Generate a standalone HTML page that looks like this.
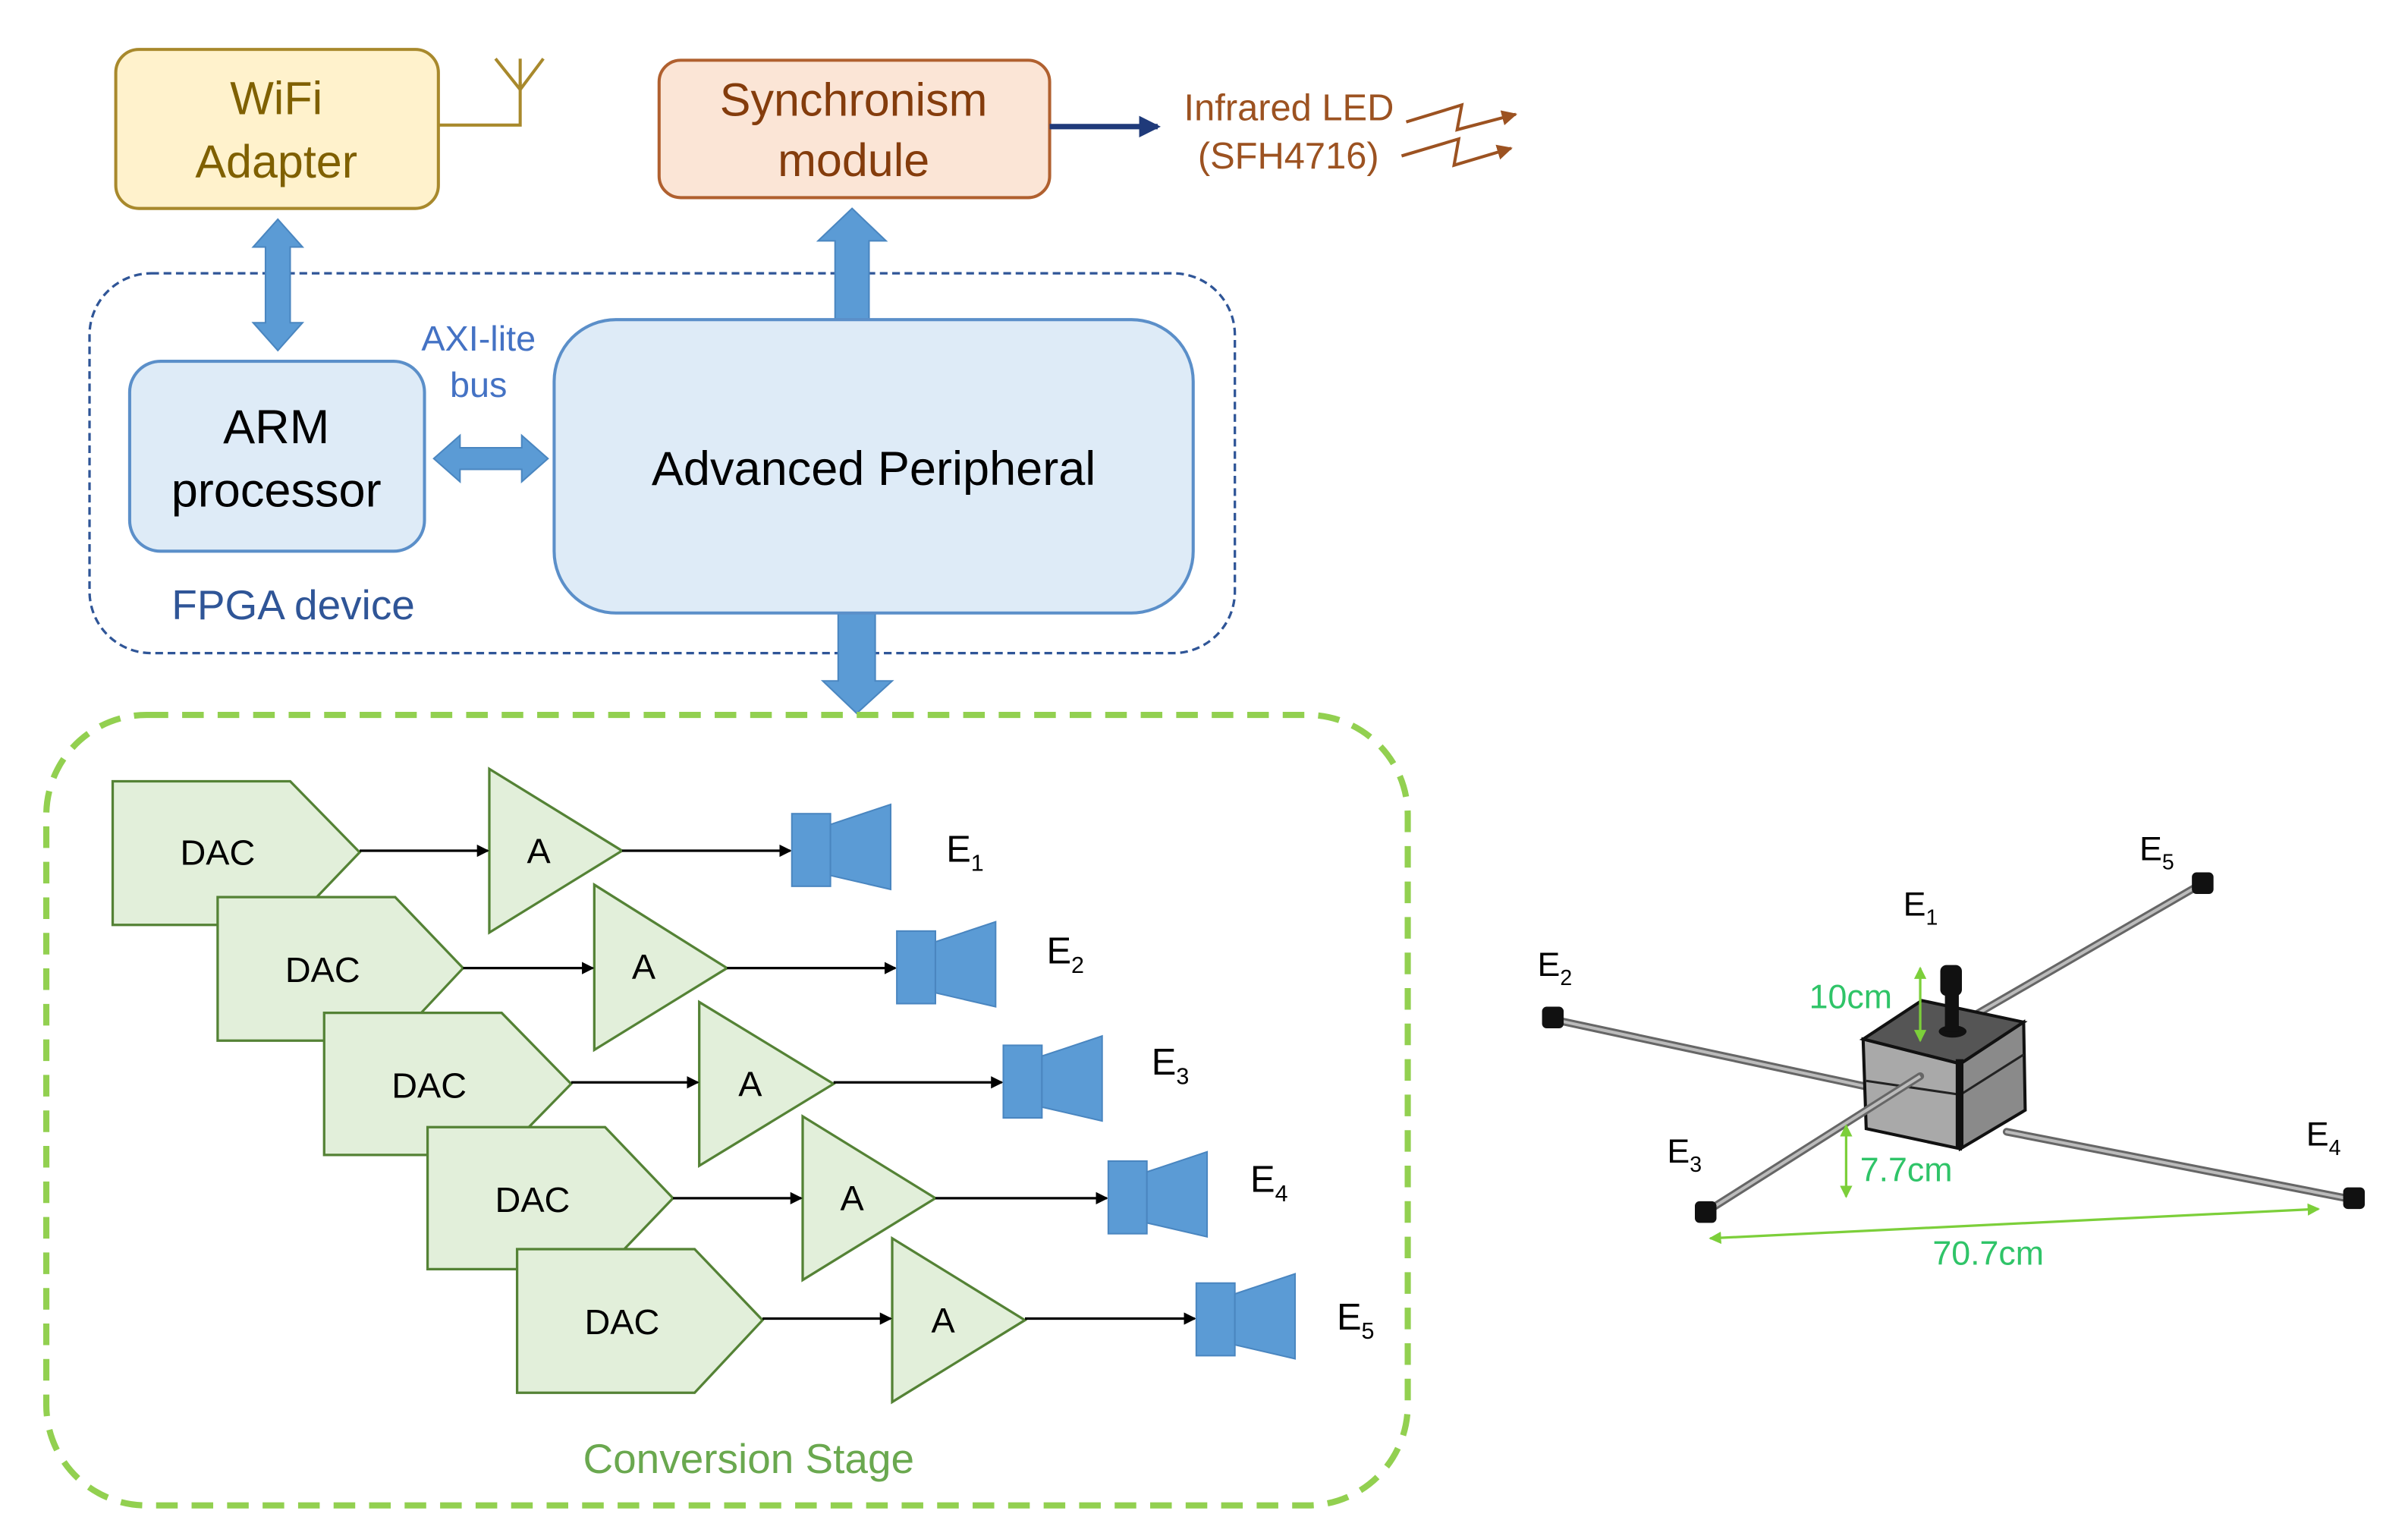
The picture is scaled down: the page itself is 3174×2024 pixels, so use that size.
<!DOCTYPE html>
<html><head><meta charset="utf-8"><style>
html,body{margin:0;padding:0;background:#fff;}
svg{display:block;}
text{font-family:"Liberation Sans",sans-serif;}
</style></head><body>
<svg width="3174" height="2024" viewBox="0 0 1560 994.8" preserveAspectRatio="none" xmlns="http://www.w3.org/2000/svg">
<defs>
<marker id="ah" markerWidth="8" markerHeight="8" refX="7" refY="4" orient="auto" markerUnits="userSpaceOnUse"><path d="M0,0 L8,4 L0,8 z" fill="#000"/></marker>
<marker id="an" markerWidth="14" markerHeight="14" refX="12" refY="7" orient="auto" markerUnits="userSpaceOnUse"><path d="M0,0 L14,7 L0,14 z" fill="#1f3a7a"/></marker>
<marker id="ab" markerWidth="10" markerHeight="10" refX="9" refY="5" orient="auto" markerUnits="userSpaceOnUse"><path d="M0,0 L10,5 L0,10 z" fill="#9c5221"/></marker>
<marker id="ag" markerWidth="8" markerHeight="8" refX="7" refY="4" orient="auto-start-reverse" markerUnits="userSpaceOnUse"><path d="M0,0 L8,4 L0,8 z" fill="#7ccf3a"/></marker>
</defs>

<!-- FPGA dashed -->
<rect x="58" y="177" width="742" height="246" rx="40" fill="none" stroke="#2f5597" stroke-width="1.6" stroke-dasharray="5,3"/>

<!-- WiFi -->
<rect x="75" y="32" width="209" height="103" rx="15" fill="#fff2cc" stroke="#a8892c" stroke-width="2"/>
<text x="179" y="74" font-size="30" fill="#7f6000" text-anchor="middle">WiFi</text>
<text x="179" y="115" font-size="30" fill="#7f6000" text-anchor="middle">Adapter</text>
<polyline points="284,81 337,81 337,53" fill="none" stroke="#a8892c" stroke-width="2"/>
<polyline points="321,38 337,58 352,38" fill="none" stroke="#a8892c" stroke-width="2"/>
<line x1="337" y1="38" x2="337" y2="58" stroke="#a8892c" stroke-width="2"/>

<!-- Sync -->
<rect x="427" y="39" width="253" height="89" rx="14" fill="#fbe5d6" stroke="#b0602f" stroke-width="2"/>
<text x="553" y="75" font-size="30" fill="#843c0c" text-anchor="middle">Synchronism</text>
<text x="553" y="114" font-size="30" fill="#843c0c" text-anchor="middle">module</text>
<line x1="680" y1="82" x2="750" y2="82" stroke="#1f3a7a" stroke-width="3.5" marker-end="url(#an)"/>
<text x="767" y="78" font-size="24" fill="#9c5221">Infrared LED</text>
<text x="776" y="109" font-size="24" fill="#9c5221">(SFH4716)</text>
<polyline points="911,79 947,68 944,84 982,74" fill="none" stroke="#9c5221" stroke-width="2" marker-end="url(#ab)"/>
<polyline points="908,101 945,90 942,107 979,96" fill="none" stroke="#9c5221" stroke-width="2" marker-end="url(#ab)"/>

<!-- block arrows -->
<g fill="#5b9bd5" stroke="#4a86c0" stroke-width="1">
<path d="M180,142 L196,160 L188,160 L188,209 L196,209 L180,227 L164,209 L172,209 L172,160 L164,160 Z"/>
<path d="M552,135 L574,156 L563,156 L563,207 L541,207 L541,156 L530,156 Z"/>
<path d="M281,297 L298,282 L298,290 L338,290 L338,282 L355,297 L338,312 L338,304 L298,304 L298,312 Z"/>
<path d="M543,397 L567,397 L567,441 L578,441 L555,462 L533,441 L543,441 Z"/>
</g>

<!-- ARM -->
<rect x="84" y="234" width="191" height="123" rx="20" fill="#deebf7" stroke="#5b8fc9" stroke-width="2"/>
<text x="179" y="287" font-size="31" fill="#000" text-anchor="middle">ARM</text>
<text x="179" y="328" font-size="31" fill="#000" text-anchor="middle">processor</text>
<text x="310" y="227" font-size="23" fill="#4472c4" text-anchor="middle">AXI-lite</text>
<text x="310" y="257" font-size="23" fill="#4472c4" text-anchor="middle">bus</text>

<!-- AP -->
<rect x="359" y="207" width="414" height="190" rx="40" fill="#deebf7" stroke="#5b8fc9" stroke-width="2"/>
<text x="566" y="314" font-size="31" fill="#000" text-anchor="middle">Advanced Peripheral</text>
<text x="190" y="401" font-size="27" fill="#2f5597" text-anchor="middle">FPGA device</text>

<!-- Conversion stage -->
<rect x="30" y="463" width="882" height="512" rx="65" fill="none" stroke="#92d050" stroke-width="4" stroke-dasharray="14,9"/>
<text x="485" y="954" font-size="27" fill="#6aa84f" text-anchor="middle">Conversion Stage</text>

<g stroke="#548235" stroke-width="1.6" fill="#e2efda">
<path d="M73,506 L188,506 L233,552 L188,599 L73,599 Z"/>
<path d="M141,581 L256,581 L300,627 L256,674 L141,674 Z"/>
<path d="M210,656 L325,656 L370,702 L325,748 L210,748 Z"/>
<path d="M277,730 L392,730 L436,776 L392,822 L277,822 Z"/>
<path d="M335,809 L450,809 L494,855 L450,902 L335,902 Z"/>
<path d="M317,498 L403,551 L317,604 Z"/>
<path d="M385,573 L471,627 L385,680 Z"/>
<path d="M453,649 L540,702 L453,755 Z"/>
<path d="M520,723 L606,776 L520,829 Z"/>
<path d="M578,802 L664,855 L578,908 Z"/>
</g>
<g font-size="23" fill="#000" text-anchor="middle">
<text x="141" y="560">DAC</text><text x="209" y="636">DAC</text><text x="278" y="711">DAC</text><text x="345" y="785">DAC</text><text x="403" y="864">DAC</text>
<text x="349" y="559">A</text><text x="417" y="634">A</text><text x="486" y="710">A</text><text x="552" y="784">A</text><text x="611" y="863">A</text>
</g>
<g stroke="#000" stroke-width="1.6" marker-end="url(#ah)">
<line x1="233" y1="551" x2="316" y2="551"/><line x1="403" y1="551" x2="512" y2="551"/>
<line x1="300" y1="627" x2="384" y2="627"/><line x1="471" y1="627" x2="580" y2="627"/>
<line x1="370" y1="701" x2="452" y2="701"/><line x1="540" y1="701" x2="649" y2="701"/>
<line x1="436" y1="776" x2="519" y2="776"/><line x1="606" y1="776" x2="717" y2="776"/>
<line x1="494" y1="854" x2="577" y2="854"/><line x1="664" y1="854" x2="774" y2="854"/>
</g>
<g fill="#5b9bd5" stroke="#4a86c0" stroke-width="1">
<rect x="513" y="527" width="25" height="47"/><path d="M538,534 L577,521 L577,576 L538,567 Z"/>
<rect x="581" y="603" width="25" height="47"/><path d="M606,610 L645,597 L645,652 L606,643 Z"/>
<rect x="650" y="677" width="25" height="47"/><path d="M675,684 L714,671 L714,726 L675,717 Z"/>
<rect x="718" y="752" width="25" height="47"/><path d="M743,759 L782,746 L782,801 L743,792 Z"/>
<rect x="775" y="831" width="25" height="47"/><path d="M800,838 L839,825 L839,880 L800,871 Z"/>
</g>
<g font-size="24" fill="#000">
<text x="613" y="558">E<tspan font-size="15" dy="6">1</tspan></text>
<text x="678" y="624">E<tspan font-size="15" dy="6">2</tspan></text>
<text x="746" y="696">E<tspan font-size="15" dy="6">3</tspan></text>
<text x="810" y="772">E<tspan font-size="15" dy="6">4</tspan></text>
<text x="866" y="861">E<tspan font-size="15" dy="6">5</tspan></text>
</g>

<!-- Right 3D figure -->
<g stroke-linecap="round">
<line x1="1005" y1="660" x2="1215" y2="705" stroke="#666" stroke-width="5"/>
<line x1="1005" y1="660" x2="1215" y2="705" stroke="#bbb" stroke-width="2"/>
<line x1="1275" y1="660" x2="1427" y2="572" stroke="#666" stroke-width="5"/>
<line x1="1275" y1="660" x2="1427" y2="572" stroke="#bbb" stroke-width="2"/>
<line x1="1300" y1="733" x2="1525" y2="777" stroke="#666" stroke-width="5"/>
<line x1="1300" y1="733" x2="1525" y2="777" stroke="#bbb" stroke-width="2"/>
</g>
<!-- cube -->
<path d="M1207,673 L1245,648 L1311,662 L1270,689 Z" fill="#555" stroke="#111" stroke-width="2"/>
<path d="M1207,673 L1270,689 L1270,744 L1209,731 Z" fill="#a9a9a9" stroke="#111" stroke-width="2"/>
<path d="M1270,689 L1311,662 L1312,719 L1270,744 Z" fill="#8a8a8a" stroke="#111" stroke-width="2"/>
<line x1="1209" y1="700" x2="1270" y2="709" stroke="#222" stroke-width="1.5"/>
<line x1="1270" y1="709" x2="1311" y2="683" stroke="#222" stroke-width="1.5"/>
<rect x="1267" y="686" width="5" height="58" fill="#111"/>
<ellipse cx="1265" cy="668" rx="9" ry="4" fill="#111"/>
<rect x="1260" y="636" width="9" height="32" fill="#111"/>
<rect x="1257" y="625" width="14" height="20" rx="4" fill="#111"/>
<line x1="1105" y1="785" x2="1244" y2="697" stroke="#666" stroke-width="5" stroke-linecap="round"/>
<line x1="1105" y1="785" x2="1244" y2="697" stroke="#bbb" stroke-width="2"/>
<rect x="999" y="652" width="14" height="14" rx="3" fill="#111"/>
<rect x="1420" y="565" width="14" height="14" rx="3" fill="#111"/>
<rect x="1098" y="778" width="14" height="14" rx="3" fill="#111"/>
<rect x="1518" y="769" width="14" height="14" rx="3" fill="#111"/>
<g stroke="#7ccf3a" stroke-width="1.6">
<line x1="1244" y1="627" x2="1244" y2="674" marker-start="url(#ag)" marker-end="url(#ag)"/>
<line x1="1196" y1="729" x2="1196" y2="775" marker-start="url(#ag)" marker-end="url(#ag)"/>
<line x1="1108" y1="802" x2="1502" y2="783" marker-start="url(#ag)" marker-end="url(#ag)"/>
</g>
<g font-size="22" fill="#2fc468">
<text x="1172" y="653">10cm</text>
<text x="1205" y="765">7.7cm</text>
<text x="1252" y="819">70.7cm</text>
</g>
<g font-size="22" fill="#000">
<text x="1233" y="593">E<tspan font-size="14" dy="6">1</tspan></text>
<text x="996" y="632">E<tspan font-size="14" dy="6">2</tspan></text>
<text x="1080" y="753">E<tspan font-size="14" dy="6">3</tspan></text>
<text x="1494" y="742">E<tspan font-size="14" dy="6">4</tspan></text>
<text x="1386" y="557">E<tspan font-size="14" dy="6">5</tspan></text>
</g>
</svg>
</body></html>
